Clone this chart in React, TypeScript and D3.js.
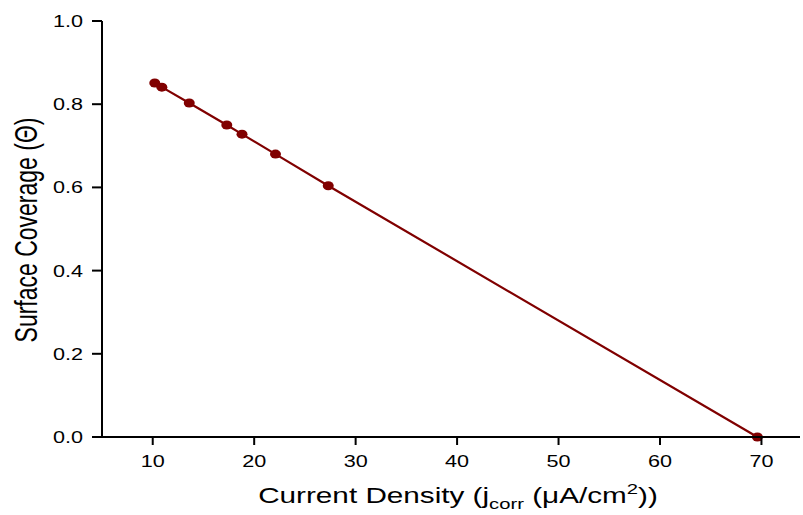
import React from 'react';
import * as d3 from 'd3';

// data
const currentDensity = [10.2, 10.9, 13.6, 17.3, 18.8, 22.1, 27.3, 69.6];
const surfaceCoverage = [0.851, 0.841, 0.803, 0.75, 0.728, 0.68, 0.604, 0.0];
const xTicks = [10, 20, 30, 40, 50, 60, 70];
const yTicks = [0.0, 0.2, 0.4, 0.6, 0.8, 1.0];

const W = 803;
const H = 515;
const margin = { top: 21, right: 3, bottom: 78, left: 102 };
const color = '#800000';
const font = '"Liberation Sans", Arial, sans-serif';
// the original text is stretched wide
const SX = 1.35;

const App = () => {
    const x = d3.scaleLinear().domain([5, 73.8]).range([margin.left, W - margin.right]);
    const y = d3.scaleLinear().domain([0, 1]).range([H - margin.bottom, margin.top]);

    const points = currentDensity.map((d, i) => [d, surfaceCoverage[i]] as [number, number]);
    const line = d3.line<[number, number]>()
        .x(d => x(d[0]))
        .y(d => y(d[1]));

    const x0 = x(5);
    const y0 = y(0);

    return (
        <svg width={W} height={H} style={{ position: 'absolute', left: 0, top: 0, background: '#fff' }}
            fontFamily={font}>
            {/* fitted line + points */}
            <path d={line(points) || ''} fill="none" stroke={color} strokeWidth={2.2} />
            {points.map((p, i) => (
                <ellipse key={i} cx={x(p[0])} cy={y(p[1])} rx={5.5} ry={4.5} fill={color} />
            ))}

            {/* y axis */}
            <line x1={x0} x2={x0} y1={y(1)} y2={y0} stroke="#000" strokeWidth={2} />
            {yTicks.map(t => (
                <g key={t}>
                    <line x1={x0 - 10} x2={x0} y1={y(t)} y2={y(t)} stroke="#000" strokeWidth={2} />
                    <g transform={`translate(${x0 - 19}, ${y(t) + 6}) scale(${SX}, 1)`}>
                        <text textAnchor="end" fontSize={16}>{d3.format('.1f')(t)}</text>
                    </g>
                </g>
            ))}

            {/* x axis */}
            <line x1={x0} x2={W - margin.right} y1={y0} y2={y0} stroke="#000" strokeWidth={2} />
            {xTicks.map(t => (
                <g key={t}>
                    <line x1={x(t)} x2={x(t)} y1={y0} y2={y0 + 8} stroke="#000" strokeWidth={2} />
                    <g transform={`translate(${x(t)}, ${y0 + 30}) scale(${SX}, 1)`}>
                        <text textAnchor="middle" fontSize={16}>{t}</text>
                    </g>
                </g>
            ))}

            {/* axis titles */}
            <g transform={`translate(458, 503) scale(${SX}, 1)`}>
                <text textAnchor="middle" fontSize={22}>
                    Current Density (j<tspan fontSize={15} dy={6}>corr</tspan>
                    <tspan dy={-6}> (μA/cm</tspan>
                    <tspan fontSize={15} dy={-9}>2</tspan>
                    <tspan dy={9}>))</tspan>
                </text>
            </g>
            <g transform={`translate(37, 230) scale(${SX}, 1) rotate(-90)`}>
                <text textAnchor="middle" fontSize={23}>Surface Coverage (Θ)</text>
            </g>
        </svg>
    );
};

export default App;
